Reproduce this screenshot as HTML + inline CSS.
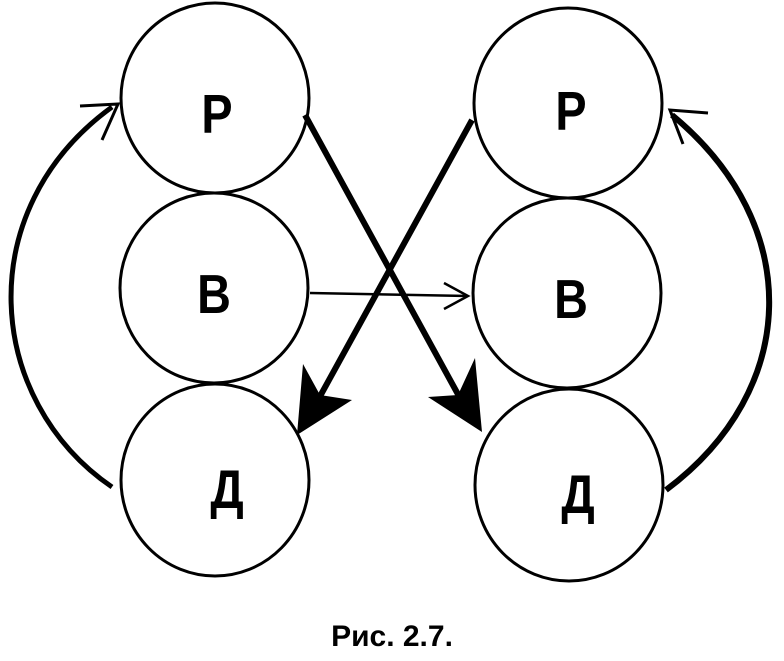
<!DOCTYPE html>
<html><head><meta charset="utf-8"><style>
body{margin:0;background:#fff}
svg{display:block}
text{font-family:"Liberation Sans",sans-serif;font-weight:bold;fill:#000}
</style></head><body>
<svg width="784" height="661" viewBox="0 0 784 661">
<g fill="none" stroke="#000" stroke-width="3">
<ellipse cx="215" cy="98" rx="94" ry="95"/>
<ellipse cx="214" cy="288" rx="94" ry="95"/>
<ellipse cx="215" cy="480" rx="94" ry="96"/>
<ellipse cx="568" cy="103" rx="94" ry="95"/>
<ellipse cx="567" cy="293" rx="94" ry="95"/>
<ellipse cx="569" cy="485" rx="94" ry="96"/>
</g>
<g font-size="52" text-anchor="middle">
<text x="217" y="133" transform="translate(217 133) scale(0.9 1.05) translate(-217 -133)">Р</text>
<text x="214" y="313" transform="translate(214 313) scale(0.9 1.05) translate(-214 -313)">В</text>
<text x="227" y="508" transform="translate(227 508) scale(0.9 1.05) translate(-227 -508)">Д</text>
<text x="571" y="130" transform="translate(571 130) scale(0.9 1.05) translate(-571 -130)">Р</text>
<text x="571" y="318" transform="translate(571 318) scale(0.9 1.05) translate(-571 -318)">В</text>
<text x="578" y="513" transform="translate(578 513) scale(0.9 1.05) translate(-578 -513)">Д</text>
</g>
<path d="M310 293 L468 296" stroke="#000" stroke-width="2.5" fill="none"/>
<path d="M444 283 L468 296 L444 309" stroke="#000" stroke-width="2.5" fill="none"/>
<path d="M305 115 L460 398" stroke="#000" stroke-width="6" fill="none"/>
<polygon points="482,432 428,397 458,395 475,358" fill="#000"/>
<path d="M472 120 L318 400" stroke="#000" stroke-width="6" fill="none"/>
<polygon points="297,435 303,364 320,395 352,400" fill="#000"/>
<path d="M112 487 C-15 400 -30 210 112 107" stroke="#000" stroke-width="5" fill="none"/>
<path d="M80 106 L118 104 L102 140" stroke="#000" stroke-width="3" fill="none"/>
<path d="M666 490 C800 390 805 225 672 115" stroke="#000" stroke-width="6" fill="none"/>
<path d="M708 113 L670 110 L683 144" stroke="#000" stroke-width="3" fill="none"/>
<text x="392" y="646" font-size="30" text-anchor="middle">Рис. 2.7.</text>
</svg>
</body></html>
